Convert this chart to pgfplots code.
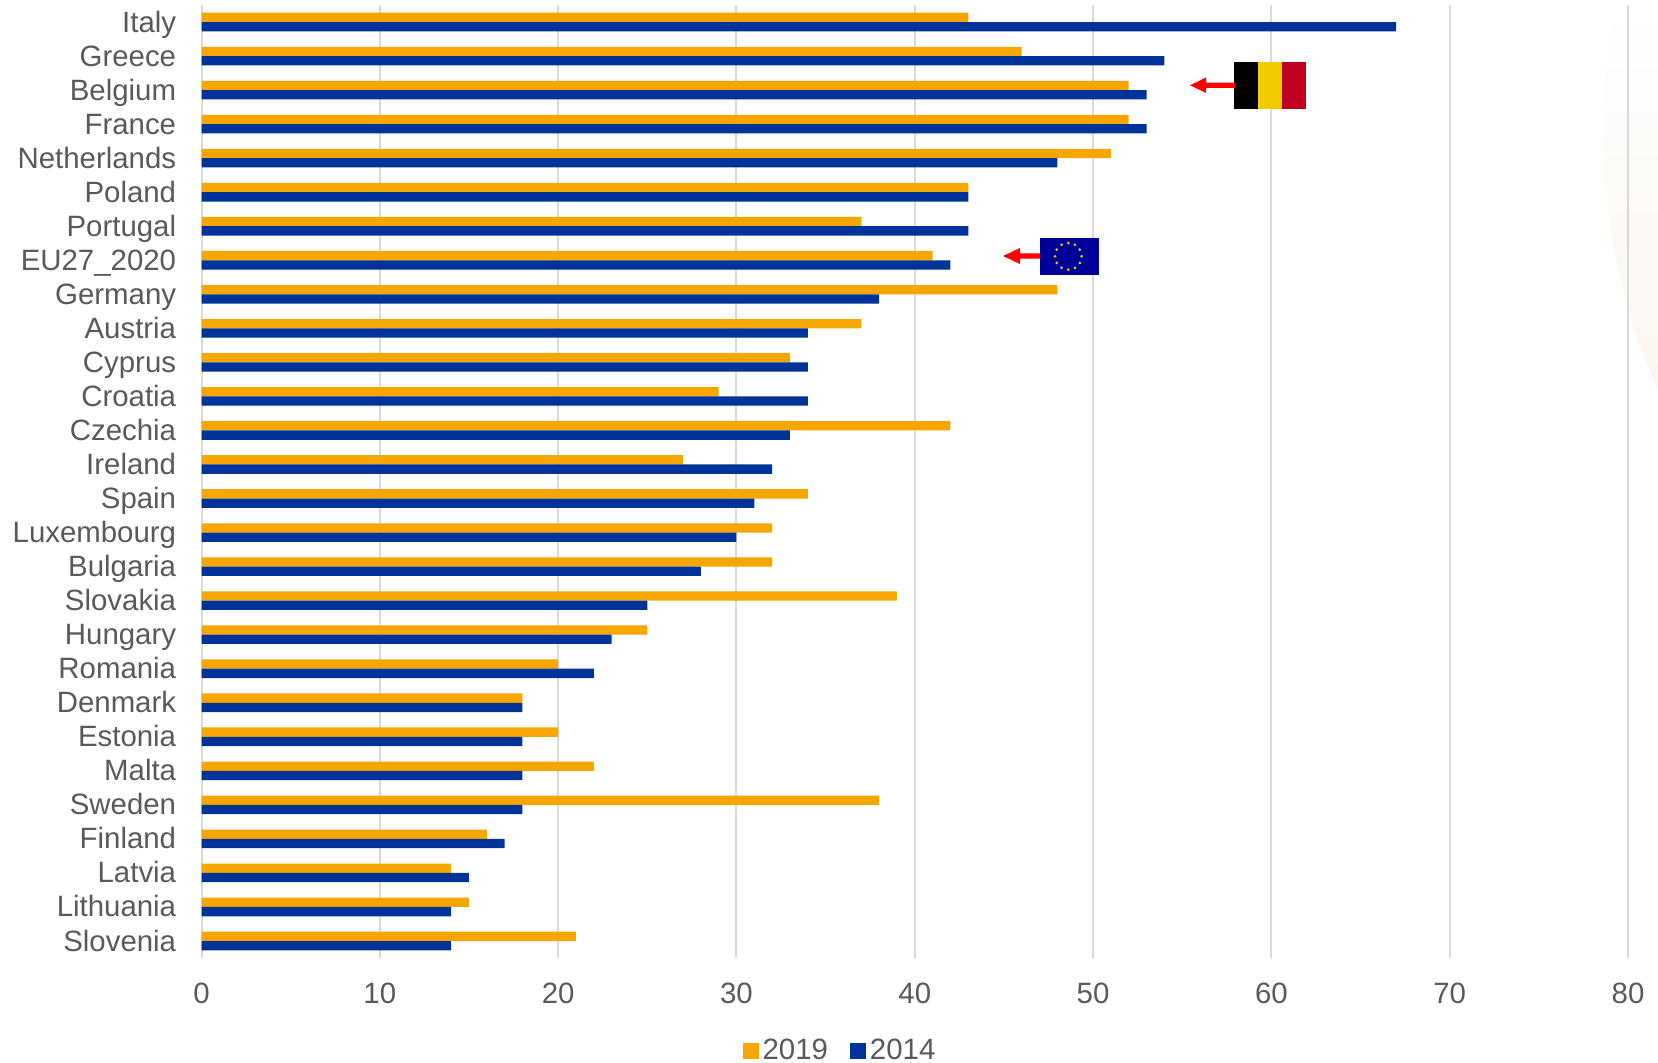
\documentclass[border=0pt]{standalone}
\usepackage{pgfplots}
\usepackage{pgfplotstable}
\usepackage{fontspec}
\setmainfont{Liberation Sans}
\pgfplotsset{compat=1.18}
\definecolor{orangebar}{HTML}{F7A600}
\definecolor{bluebar}{HTML}{003399}
\definecolor{gridc}{HTML}{D9D9D9}
\definecolor{txt}{HTML}{595959}
\definecolor{bgtint}{HTML}{FBF6EF}
\definecolor{euflag}{HTML}{000099}
\definecolor{bered}{HTML}{C00020}
\definecolor{beyel}{HTML}{F2CB00}
\pgfplotstableread{
idx y2019 y2014
0 43 67
1 46 54
2 52 53
3 52 53
4 51 48
5 43 43
6 37 43
7 41 42
8 48 38
9 37 34
10 33 34
11 29 34
12 42 33
13 27 32
14 34 31
15 32 30
16 32 28
17 39 25
18 25 23
19 20 22
20 18 18
21 20 18
22 22 18
23 38 18
24 16 17
25 14 15
26 15 14
27 21 14
}\datatable
\begin{document}
\begin{tikzpicture}
\path[use as bounding box] (0,0) rectangle (829pt,531pt);
\begin{scope}[x=0.5pt,y=-0.5pt,yshift=531pt]
  \clip (0,0) rectangle (1658,1062);
  \begin{scope}
    \clip (2243,130) circle (640);
    \shade[top color=white,bottom color=bgtint] (1590,0) rectangle (1658,400);
    \fill[bgtint] (1590,400) rectangle (1658,1062);
  \end{scope}
\end{scope}
\begin{axis}[
  at={(100.75pt,52pt)},anchor=south west,
  scale only axis,width=713.25pt,height=476.5pt,
  xmin=0,xmax=80,ymin=-0.5,ymax=27.5,y dir=reverse,
  clip=false,
  xbar,bar width=4.65pt,
  axis line style={draw=none},
  major tick length=0pt,
  xmajorgrids,
  grid style={gridc,line width=1pt},
  xtick={0,10,20,30,40,50,60,70,80},
  ytick={0,...,27},
  yticklabels={Italy,Greece,Belgium,France,Netherlands,Poland,Portugal,EU27\_2020,Germany,Austria,Cyprus,Croatia,Czechia,Ireland,Spain,Luxembourg,Bulgaria,Slovakia,Hungary,Romania,Denmark,Estonia,Malta,Sweden,Finland,Latvia,Lithuania,Slovenia},
  tick label style={font=\fontsize{14.7}{16}\selectfont,text=txt,inner sep=0pt},
  /pgf/number format/assume math mode=true,
  yticklabel style={text height=0.72em,text depth=0.2em,anchor=east,yshift=-2.4pt},
  xticklabel style={text height=0.72em,text depth=0em,anchor=north},
  xticklabel shift=15.2pt,
  yticklabel shift=12.5pt,
  legend columns=2,
  legend style={at={(0.3796,-0.0975)},anchor=west,draw=none,fill=none,inner sep=0pt,outer sep=0pt,
    font=\fontsize{14.7}{16}\selectfont,text=txt,
    nodes={inner ysep=0pt},
    /tikz/every even column/.append style={column sep=9.2pt}},
  legend image code/.code={\fill[#1] (0pt,-3.9pt) rectangle (7.8pt,3.9pt);},
]
\addplot[fill=orangebar,draw=none,bar shift=2.325pt] table[x=y2019,y=idx]{\datatable};
\addplot[fill=bluebar,draw=none,bar shift=-2.325pt] table[x=y2014,y=idx]{\datatable};
\legend{2019,2014}
\end{axis}
\begin{scope}[x=0.5pt,y=-0.5pt,yshift=531pt]
  % Belgian flag and arrow
  \fill[black] (1234,62) rectangle (1258,108.7);
  \fill[beyel] (1258,62) rectangle (1282,108.7);
  \fill[bered] (1282,62) rectangle (1305.7,108.7);
  \fill[red] (1235,82.7) -- (1206,82.7) -- (1206,77.5) -- (1190,85.3) -- (1206,93) -- (1206,88) -- (1235,88) -- cycle;
  % EU flag and arrow
  \fill[euflag] (1040,238) rectangle (1099,274.7);
  \foreach \a in {0,30,...,330}
    \fill[beyel] (1068.3,256.3) ++(\a:13.3) circle (1.5);
  \fill[red] (1040,253.4) -- (1020,253.4) -- (1020,248) -- (1003,256) -- (1020,264) -- (1020,258.7) -- (1040,258.7) -- cycle;
\end{scope}
\end{tikzpicture}
\end{document}
